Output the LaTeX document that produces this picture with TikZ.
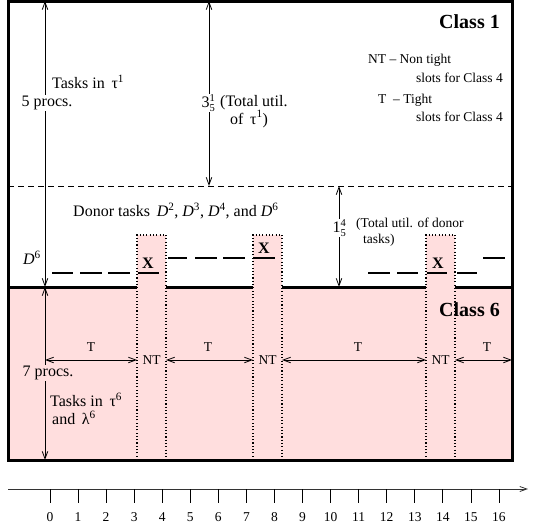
\documentclass[tikz,border=0pt]{standalone}
\usepackage{fontspec}
\setmainfont{Liberation Serif}
\usetikzlibrary{arrows.meta}
\definecolor{pinkbg}{RGB}{255,222,222}
\newcommand\stk[3]{#1\makebox[0pt][l]{\raisebox{0.8ex}{\fontsize{10.5}{11}\selectfont #2}}\raisebox{-0.5ex}{\fontsize{10.5}{11}\selectfont #3}}
\begin{document}
\begin{tikzpicture}[x=1pt,y=-1pt,
  every node/.style={inner sep=1pt},
  lbl/.style={font=\fontsize{16}{18}\selectfont},
  sml/.style={font=\fontsize{13.5}{15}\selectfont},
  big/.style={font=\fontsize{20}{22}\selectfont\bfseries},
  xmark/.style={font=\fontsize{16}{18}\selectfont\bfseries},
  dim/.style={line width=0.8pt,{Straight Barb[length=7.5pt,width=5.5pt]}-{Straight Barb[length=7.5pt,width=5.5pt]}},
  border/.style={line width=3pt},
  thickline/.style={line width=3pt},
  dots/.style={line width=1.2pt, dash pattern=on 1.1pt off 2.2pt},
  dseg/.style={line width=2.6pt},
  hdash/.style={line width=0.7pt, dash pattern=on 6pt off 4pt},
]
\useasboundingbox (0,0) rectangle (537,529);
% pink regions
\fill[pinkbg] (8,287) rectangle (512,460);
\fill[pinkbg] (137,235) rectangle (166,287);
\fill[pinkbg] (253,235) rectangle (282,287);
\fill[pinkbg] (426,235) rectangle (455,287);
% column borders (dotted)
\draw[dots] (137,460) -- (137,235) -- (166,235) -- (166,460);
\draw[dots] (253,460) -- (253,235) -- (282,235) -- (282,460);
\draw[dots] (426,460) -- (426,235) -- (455,235) -- (455,460);
% thin dashed separator
\draw[hdash] (8,186) -- (512,186);
% borders
\draw[border] (8,287) -- (8,1.5) -- (512,1.5) -- (512,287);
\draw[border] (8,287) -- (8,460) -- (512,460) -- (512,287);
\draw[thickline] (8,287) -- (137,287);
\draw[thickline] (166,287) -- (253,287);
\draw[thickline] (282,287) -- (426,287);
\draw[thickline] (455,287) -- (512,287);
% donor dashes
\foreach \a/\b/\y in {52/73/273,80/102/273,108/130/273,138/159/273,
  168/187/258,195/217/258,223/245/258,253/275/258,
  368/390/273,397/418/273,427/447/273,457/477/273,483/505/258}
  \draw[dseg] (\a,\y) -- (\b,\y);
% X marks
\node[xmark] (x1) at (148,263) {X};
\node[xmark] (x2) at (264,248) {X};
\node[xmark] (x3) at (438,263) {X};
% dimension coordinates
\coordinate (l1t) at (45,1);
\coordinate (l1b) at (45,287);
\coordinate (m1t) at (209,1);
\coordinate (m1b) at (209,186);
\coordinate (r1t) at (339,186);
\coordinate (r1b) at (339,287);
\coordinate (l6t) at (45,287);
\coordinate (l6b) at (45,460);
\draw[dim] (l1t) -- (l1b);
\draw[dim] (m1t) -- (m1b);
\draw[dim] (r1t) -- (r1b);
\draw[dim] (l6t) -- (l6b);
% class 1 texts
\node[lbl,anchor=west] (tau1) at (51,82) {Tasks in \,τ\textsuperscript{1}};
\node[lbl,fill=white] (p5) at (47,103) {5 procs.};
\node[lbl] (d6) at (32,258) {\textit{D}\textsuperscript{6}};
\node[lbl,anchor=west,fill=white,inner sep=0.5pt] (u1) at (201,103) {\stk{3}{1}{5}};
\node[lbl,anchor=west] (u1a) at (219,103) {(Total util.};
\node[lbl,anchor=west] (u1b) at (229,119) {of \,τ\textsuperscript{1})};
\node[lbl,anchor=west] (donor) at (72,211) {Donor tasks \,\textit{D}\textsuperscript{2}, \textit{D}\textsuperscript{3}, \textit{D}\textsuperscript{4}, and \textit{D}\textsuperscript{6}};
\node[lbl,anchor=west,fill=white,inner sep=0.5pt] (u2) at (332,228) {\stk{1}{4}{5}};
\node[sml,anchor=west] (u2a) at (355,224) {(Total util. of donor};
\node[sml,anchor=west] (u2b) at (362,240) {tasks)};
\node[big,anchor=east] (c1) at (501,22) {Class 1};
\node[sml,anchor=west] (nt1) at (367,60) {NT -- Non tight};
\node[sml,anchor=east] (nt2) at (504,78) {slots for Class 4};
\node[sml,anchor=west] (tt1) at (377,100) {T \ -- Tight};
\node[sml,anchor=east] (tt2) at (504,117) {slots for Class 4};
% class 6 texts
\node[big,anchor=east] (c6) at (501,310) {Class 6};
\coordinate (h0) at (45,360);
\coordinate (h1) at (137,360);
\coordinate (h2) at (166,360);
\coordinate (h3) at (253,360);
\coordinate (h4) at (282,360);
\coordinate (h5) at (426,360);
\coordinate (h6) at (455,360);
\coordinate (h7) at (512,360);
\draw[dim] (h0) -- (h1);
\draw[dim] (h2) -- (h3);
\draw[dim] (h4) -- (h5);
\draw[dim] (h6) -- (h7);
\node[sml] (T1) at (91,347) {T};
\node[sml] (T2) at (208,347) {T};
\node[sml] (T3) at (358,347) {T};
\node[sml] (T4) at (487,347) {T};
\node[sml] (N1) at (151.5,360) {NT};
\node[sml] (N2) at (267.5,360) {NT};
\node[sml] (N3) at (440.5,360) {NT};
\node[lbl,fill=pinkbg] (p7) at (48,373) {7 procs.};
\node[lbl,anchor=west] (tau6) at (49,400) {Tasks in \,τ\textsuperscript{6}};
\node[lbl,anchor=west] (lam6) at (51,418) {and \,λ\textsuperscript{6}};
% time axis
\coordinate (ax0) at (8,489);
\coordinate (ax1) at (528,489);
\draw[line width=0.8pt,black!80,-{Straight Barb[length=7pt,width=5pt]}] (ax0) -- (ax1);
\foreach \i in {0,...,16} {
  \draw[line width=0.8pt] (50+28.06*\i,489) -- ++(0,14);
  \node[sml] (t\i) at (50+28.06*\i,517) {\i};
}
\end{tikzpicture}
\end{document}
